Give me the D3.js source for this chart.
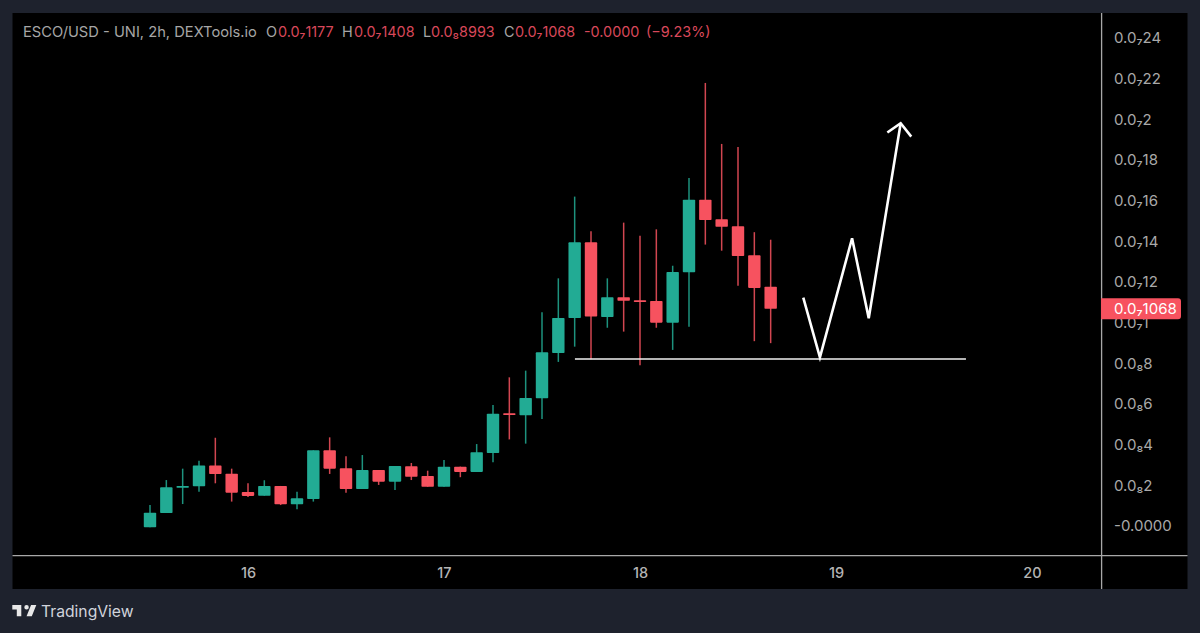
<!DOCTYPE html>
<html>
<head>
<meta charset="utf-8">
<title>ESCO/USD</title>
<script src="https://cdn.jsdelivr.net/npm/d3@7"></script>
<style>
html, body { margin: 0; padding: 0; background: #1e222d; overflow: hidden; }
text { font-family: Inter, "Noto Sans", sans-serif; }
</style>
</head>
<body>
<svg id="chart" width="1200" height="633"></svg>

<script>
// prices are in units of 1e-9, so 0.0₇1 is 10 and 0.0₈8 is 8
var open_vals =  [-0.06,0.64,1.88,1.95,2.97,2.57,1.67,1.49,1.97,1.07,1.33,3.72,2.84,1.82,2.75,2.18,2.94,2.46,1.93,2.92,2.66,3.59,5.54,5.45,6.28,8.51,10.23,13.95,10.28,11.25,11.10,11.07,10.00,12.48,16.05,15.09,14.74,13.31,11.77];
var close_vals = [0.65,1.90,1.97,2.97,2.56,1.64,1.48,1.97,1.07,1.36,3.72,2.82,1.82,2.75,2.18,2.95,2.42,1.93,2.92,2.66,3.63,5.52,5.46,6.30,8.54,10.23,13.95,10.30,11.25,11.08,11.02,10.00,12.49,16.05,15.05,14.72,13.28,11.71,10.68];
var high_vals =  [1.03,2.26,2.82,3.21,4.34,2.82,2.10,2.25,1.97,1.69,3.72,4.36,3.43,3.49,2.75,2.95,3.10,2.72,3.25,2.92,4.03,5.95,7.31,7.64,10.51,12.18,16.20,14.50,12.18,14.92,14.28,14.59,12.80,17.12,21.79,18.79,18.64,14.45,14.08];
var low_vals =   [-0.06,0.64,1.08,1.69,2.10,1.20,1.43,1.49,1.03,0.82,1.20,2.56,1.64,1.82,2.02,1.77,2.26,1.93,1.93,2.40,2.66,3.13,4.26,4.05,5.26,8.07,8.82,8.20,9.75,9.56,7.90,9.75,8.66,9.80,13.84,13.54,11.81,9.09,8.993];

var first_bar_day = 15.5;
var bars_per_day = 12;

var price_ticks = [24,22,20,18,16,14,12,10,8,6,4,2,0];
var price_labels = ["0.0₇24","0.0₇22","0.0₇2","0.0₇18","0.0₇16","0.0₇14","0.0₇12","0.0₇1","0.0₈8","0.0₈6","0.0₈4","0.0₈2","-0.0000"];
var day_ticks = [16,17,18,19,20];

var last_price = 10.68;
var last_label = "0.0₇1068";

// hand drawn annotations, [day, price]
var support_line = [[17.668,8.21],[19.663,8.21]];
var zigzag = [[18.833,11.23],[18.918,8.30],[19.082,14.15],[19.167,10.22],[19.330,19.81]];
var arrow_head = [[19.262,19.35],[19.330,19.81],[19.384,19.15]];

var header_parts = [
	["ESCO/USD - UNI, 2h, DEXTools.io",23,"label"],
	["O",266,"label"],["0.0₇1177",278,"value"],
	["H",342,"label"],["0.0₇1408",354,"value"],
	["L",423,"label"],["0.0₈8993",431,"value"],
	["C",504,"label"],["0.0₇1068",515,"value"],
	["-0.0000",584,"value"],["(−9.23%)",646,"value"]
];

var up_color = "#22ab94";
var down_color = "#f7525f";
var axis_color = "#a8a8a8";

var svg = d3.select("#chart");

var x = d3.scaleLinear().domain([16,20]).range([248,1032]);
var y = d3.scaleLinear().domain([0,24]).range([526,38]);
var line = d3.line().x(function(d) {return x(d[0]);}).y(function(d) {return y(d[1]);});

// background panels
svg.append("rect").attr("width",1200).attr("height",633).attr("fill","#1e222d");
svg.append("rect").attr("x",12.5).attr("y",13).attr("width",1175).attr("height",576).attr("fill","#000");

// axes
var yAxis = d3.axisRight(y).tickValues(price_ticks).tickSize(0).tickPadding(0)
	.tickFormat(function(d,i) {return price_labels[i];});
var xAxis = d3.axisBottom(x).tickValues(day_ticks).tickSize(0).tickPadding(0)
	.tickFormat(function(d) {return d;});

var yg = svg.append("g").attr("transform","translate(1114,0)").call(yAxis);
yg.select(".domain").remove();
yg.selectAll("text").attr("fill","#a9a9a9").style("font-size","15px").style("font-family","Inter, sans-serif");

var xg = svg.append("g").attr("transform","translate(0,568)").call(xAxis);
xg.select(".domain").remove();
xg.selectAll("text").attr("fill","#b4b4b4").style("font-size","14.5px").style("font-weight","500").style("font-family","Inter, sans-serif");

svg.append("line").attr("x1",12.5).attr("x2",1187.5).attr("y1",555.7).attr("y2",555.7).attr("stroke",axis_color).attr("stroke-width",1.3);
svg.append("line").attr("x1",1101.6).attr("x2",1101.6).attr("y1",13).attr("y2",589).attr("stroke",axis_color).attr("stroke-width",1.3);

// candles
var bars = d3.range(open_vals.length);
function bar_x(i) {return x(first_bar_day + i/bars_per_day);}
function bar_color(i) {return close_vals[i] >= open_vals[i] ? up_color : down_color;}

svg.append("g").selectAll("line").data(bars).enter()
	.append("line")
	.attr("x1",bar_x)
	.attr("x2",bar_x)
	.attr("y1",function(i) {return y(high_vals[i]);})
	.attr("y2",function(i) {return y(low_vals[i]);})
	.attr("stroke",bar_color)
	.attr("stroke-opacity",0.85)
	.attr("stroke-width",1.5);

svg.append("g").selectAll("rect").data(bars).enter()
	.append("rect")
	.attr("x",function(i) {return bar_x(i)-6.2;})
	.attr("width",12.4)
	.attr("y",function(i) {return y(Math.max(open_vals[i],close_vals[i]));})
	.attr("height",function(i) {return Math.max(1.6,Math.abs(y(open_vals[i])-y(close_vals[i])));})
	.attr("rx",0.8)
	.attr("fill",bar_color);

// annotations
svg.append("path").attr("d",line(support_line)).attr("fill","none").attr("stroke","#f0f0f0").attr("stroke-width",1.5);
svg.selectAll("path.draw").data([zigzag,arrow_head]).enter()
	.append("path")
	.attr("class","draw")
	.attr("d",line)
	.attr("fill","none")
	.attr("stroke","#fff")
	.attr("stroke-width",2.6);

// last price tag
var tag_y = y(last_price);
svg.append("path")
	.attr("d","M1101," + (tag_y-10.5) + "H1178a3,3 0 0 1 3,3V" + (tag_y+7.5) + "a3,3 0 0 1 -3,3H1101Z")
	.attr("fill",down_color);
svg.append("text").attr("x",1114).attr("y",tag_y).attr("dy","0.35em")
	.attr("fill","#fff").style("font-size","15px").text(last_label);

// header
svg.append("g").selectAll("text").data(header_parts).enter()
	.append("text")
	.attr("x",function(d) {return d[1];})
	.attr("y",32)
	.attr("dy","0.35em")
	.attr("fill",function(d) {return d[2]=="label" ? "#a6a6a6" : "#d9485a";})
	.style("font-size",function(d,i) {return i==0 ? "14.7px" : "14.4px";})
	.text(function(d) {return d[0];});

// logo
svg.append("path")
	.attr("transform","translate(10.8,600.5) scale(0.75)")
	.attr("d","M14 6H2v6h6v9h6V6zm14 15h-7l6-15h7l-6 15zm-7-9a3 3 0 1 0 0-6 3 3 0 0 0 0 6z")
	.attr("fill","#e8e8e8");
svg.append("text").attr("x",41).attr("y",612).attr("dy","0.35em")
	.attr("fill","#d1d4dc").style("font-size","15.7px").text("TradingView");
</script>
</body>
</html>
